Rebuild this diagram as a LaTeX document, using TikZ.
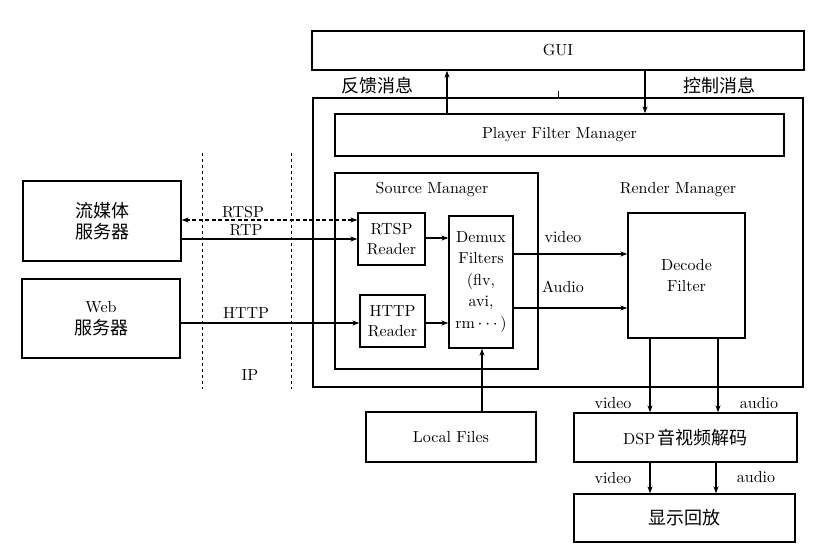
\documentclass[tikz,border=0pt]{standalone}
\usepackage{fontspec}
\setmainfont{lmroman10-regular.otf}
\newfontfamily\cjk{Noto Sans CJK SC}
\usetikzlibrary{arrows.meta,calc}
\newcommand{\zh}{\cjk\fontsize{18}{23}\selectfont}
\begin{document}
\begin{tikzpicture}[x=1pt,y=-1pt,
  box/.style={draw,line width=1.3pt,rectangle,inner sep=0pt,align=center},
  lbl/.style={inner sep=0pt},
  conn/.style={line width=1.1pt,-{Stealth[length=7pt,width=5pt]}},
  dconn/.style={line width=1.1pt,dash pattern=on 4pt off 2.5pt,{Stealth[length=7pt,width=5pt]}-{Stealth[length=7pt,width=5pt]}},
  every node/.style={font=\fontsize{16}{21.5}\selectfont}]
\useasboundingbox (0,0) rectangle (829,551);
% boxes
\node[box,minimum width=492pt,minimum height=39pt] (gui) at (558,50.5) {GUI};
\node[box,minimum width=490pt,minimum height=289pt] (outer) at (558,242.5) {};
\node[box,minimum width=449pt,minimum height=42pt] (pfm) at (559.5,135) {Player Filter Manager};
\node[box,minimum width=203pt,minimum height=196pt] (sm) at (436.5,271) {};
\node[lbl] (smlabel) at (432,190) {Source Manager};
\node[lbl] (rmlabel) at (678,190) {Render Manager};
\node[box,minimum width=67pt,minimum height=52pt] (rtsp) at (391.5,239) {RTSP\\[-1pt]Reader};
\node[box,minimum width=65pt,minimum height=52pt] (http) at (392.5,321) {HTTP\\[-1pt]Reader};
\node[box,minimum width=64pt,minimum height=132pt] (demux) at (481,282) {Demux\\Filters\\(flv,\\avi,\\rm\,$\cdots$\,)};
\node[box,minimum width=117pt,minimum height=125pt] (decode) at (686.5,275.5) {Decode\\Filter};
\node[box,minimum width=158pt,minimum height=80pt] (stream) at (102,221) {\zh 流媒体\\\zh 服务器};
\node[box,minimum width=158pt,minimum height=79pt] (web) at (101,318.5) {Web\\\zh 服务器};
\node[box,minimum width=223pt,minimum height=49pt] (dsp) at (685.5,437.5) {DSP\,{\zh 音视频解码}};
\node[box,minimum width=170pt,minimum height=50pt] (local) at (451,437) {Local Files};
\node[box,minimum width=221pt,minimum height=48pt] (disp) at (684.5,518) {\zh 显示回放};
% labels
\node[lbl,font=\zh] (fb) at (377,86) {反馈消息};
\node[lbl,font=\zh] (ctl) at (719,86) {控制消息};
\node[lbl] (lrtsp) at (243,212) {RTSP};
\node[lbl] (lrtp) at (246,230) {RTP};
\node[lbl] (lhttp) at (246,313) {HTTP};
\node[lbl] (lip) at (250,375) {IP};
\node[lbl] (lvid) at (563,237) {video};
\node[lbl] (laud) at (563,287) {Audio};
\node[lbl] (lv1) at (613,403) {video};
\node[lbl] (la1) at (759,403) {audio};
\node[lbl] (lv2) at (613,478) {video};
\node[lbl] (la2) at (756,477) {audio};
% dashed vertical lines
\coordinate (d1t) at (202,153); \coordinate (d1b) at (202,389);
\coordinate (d2t) at (291,153); \coordinate (d2b) at (291,389);
\draw[line width=0.9pt,dashed] (d1t) -- (d1b);
\draw[line width=0.9pt,dashed] (d2t) -- (d2b);
% tick
\coordinate (tk1) at (558,91); \coordinate (tk2) at (558,98);
\draw[line width=0.9pt] (tk1) -- (tk2);
% GUI connectors
\draw[conn] (pfm.north -| 447,0) -- (gui.south -| 447,0);
\draw[conn] (gui.south -| 645,0) -- (pfm.north -| 645,0);
% network connectors
\draw[dconn] (stream.east |- 0,220) -- (rtsp.west |- 0,220);
\draw[conn] (stream.east |- 0,239) -- (rtsp.west |- 0,239);
\draw[conn] (web.east |- 0,323) -- (http.west |- 0,323);
% source manager internals
\draw[conn] (rtsp.east |- 0,238) -- (demux.west |- 0,238);
\draw[conn] (http.east |- 0,323) -- (demux.west |- 0,323);
\draw[conn] (demux.east |- 0,254) -- (decode.west |- 0,254);
\draw[conn] (demux.east |- 0,308) -- (decode.west |- 0,308);
\draw[conn] (local.north -| 482,0) -- (demux.south -| 482,0);
% render to dsp
\draw[conn] (decode.south -| 650,0) -- (dsp.north -| 650,0);
\draw[conn] (decode.south -| 718,0) -- (dsp.north -| 718,0);
\draw[conn] (dsp.south -| 650,0) -- (disp.north -| 650,0);
\draw[conn] (dsp.south -| 716,0) -- (disp.north -| 716,0);
\end{tikzpicture}
\end{document}
